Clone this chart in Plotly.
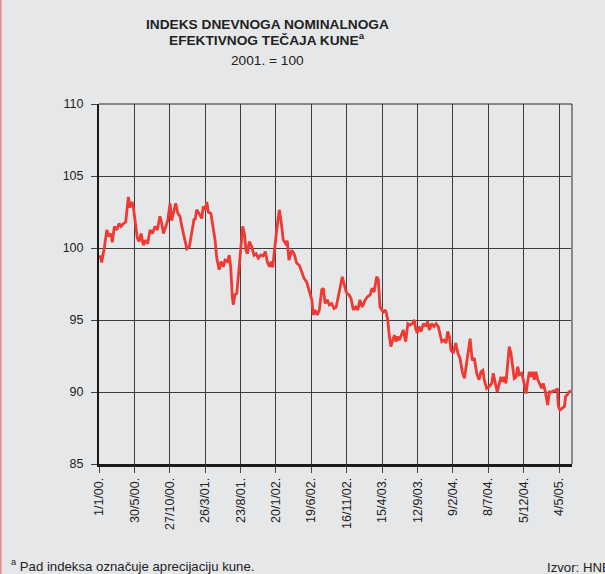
import pandas as pd
import plotly.graph_objects as go

# Days elapsed since 1 Jan 2000 for each read point
days = [4, 11, 22, 33, 42, 51, 56, 65, 75, 85, 93, 103, 113, 124, 131, 139, 145, 153, 162, 170,
        178, 188, 198, 206, 216, 226, 237, 247, 258, 266, 273, 283, 291, 301, 308, 315, 325, 334, 343, 351,
        362, 372, 383, 393, 403, 407, 414, 424, 435, 442, 449, 457, 463, 474, 482, 492, 499, 509, 517, 527,
        534, 544, 552, 558, 565, 569, 576, 584, 593, 602, 609, 616, 623, 629, 637, 647, 657, 666, 675, 685,
        696, 705, 713, 722, 729, 736, 743, 753, 764, 771, 781, 791, 798, 805, 817, 827, 838, 849, 859, 869,
        880, 892, 902, 908, 916, 925, 934, 944, 951, 958, 968, 976, 986, 996, 1005, 1014, 1022, 1031, 1040, 1050,
        1060, 1068, 1078, 1088, 1097, 1106, 1116, 1128, 1137, 1149, 1157, 1166, 1177, 1184, 1191, 1198, 1205, 1215, 1224, 1229,
        1237, 1243, 1252, 1259, 1266, 1273, 1283, 1290, 1300, 1309, 1318, 1328, 1337, 1342, 1349, 1356, 1365, 1375, 1385, 1393,
        1400, 1410, 1420, 1429, 1438, 1446, 1453, 1462, 1471, 1478, 1485, 1492, 1502, 1512, 1521, 1530, 1540, 1549, 1556, 1566,
        1573, 1582, 1591, 1601, 1611, 1619, 1627, 1633, 1643, 1655, 1665, 1671, 1679, 1688, 1697, 1704, 1711, 1718, 1725, 1733,
        1739, 1746, 1754, 1760, 1768, 1775, 1782, 1792, 1802, 1810, 1817, 1824, 1831, 1838, 1845, 1852, 1860, 1869, 1877, 1883,
        1891, 1898, 1902, 1909, 1919, 1929, 1937, 1943, 1947, 1954, 1964, 1973, 1978, 1985, 1992, 2001]

index_values = [99.5, 99.0, 100.0, 101.25, 100.8, 101.0, 100.4, 101.5, 101.25, 101.7, 101.5, 101.7, 101.8, 103.55, 102.8, 103.2, 102.9, 101.9, 100.7, 100.45,
                101.0, 100.2, 100.55, 100.3, 101.25, 101.0, 101.5, 101.25, 102.2, 101.7, 101.0, 101.5, 101.9, 103.1, 101.9, 102.4, 103.1, 102.4, 102.2, 101.5,
                100.7, 99.95, 100.1, 101.25, 102.05, 101.95, 102.65, 102.4, 102.05, 102.9, 102.65, 103.2, 102.5, 102.4, 101.5, 100.55, 99.3, 98.5, 99.05, 98.7,
                99.15, 99.05, 99.5, 98.7, 96.6, 96.05, 96.75, 96.85, 98.5, 100.1, 101.5, 101.0, 99.85, 99.6, 100.45, 100.1, 99.5, 99.6, 99.3, 99.5,
                99.45, 99.75, 99.05, 98.7, 99.05, 98.65, 99.85, 101.25, 102.65, 101.95, 100.55, 100.3, 100.5, 99.15, 99.85, 99.6, 98.95, 98.8, 98.35, 97.9,
                97.65, 96.95, 96.4, 95.35, 95.7, 95.35, 95.7, 97.1, 97.2, 96.15, 96.4, 96.05, 96.15, 95.8, 95.9, 96.6, 97.3, 98.0, 97.4, 96.85,
                96.75, 96.5, 95.7, 95.9, 95.7, 96.4, 95.9, 96.4, 96.6, 96.75, 97.2, 96.95, 98.0, 97.8, 95.9, 95.7, 95.55, 95.7, 95.0, 94.1,
                93.15, 93.5, 93.95, 93.5, 93.85, 93.6, 94.1, 94.3, 93.5, 94.75, 94.65, 94.75, 95.0, 94.4, 94.1, 94.55, 94.2, 94.75, 94.55, 94.9,
                94.3, 94.75, 94.55, 94.75, 94.55, 93.85, 93.5, 93.6, 93.4, 94.2, 93.85, 92.9, 92.7, 93.4, 92.7, 92.35, 91.4, 90.95, 91.85, 92.8,
                93.7, 92.2, 92.35, 91.3, 90.85, 91.4, 91.5, 90.85, 90.25, 90.4, 90.6, 91.3, 90.7, 90.0, 90.6, 91.05, 90.7, 91.05, 90.6, 92.0,
                93.15, 92.7, 91.75, 90.95, 91.05, 91.75, 91.2, 91.3, 90.6, 89.9, 90.7, 91.4, 91.05, 91.4, 90.85, 91.4, 90.85, 90.5, 90.25, 90.6,
                90.1, 89.45, 89.1, 90.0, 90.0, 90.1, 90.1, 90.25, 89.0, 88.75, 88.85, 89.0, 89.7, 89.8, 90.0, 90.1]

tick_dates = ["2000-01-01", "2000-05-30", "2000-10-27", "2001-03-26", "2001-08-23", "2002-01-20",
              "2002-06-19", "2002-11-16", "2003-04-15", "2003-09-12", "2004-02-09", "2004-07-08",
              "2004-12-05", "2005-05-04"]
tick_labels = ["1/1/00.", "30/5/00.", "27/10/00.", "26/3/01.", "23/8/01.", "20/1/02.", "19/6/02.",
               "16/11/02.", "15/4/03.", "12/9/03.", "9/2/04.", "8/7/04.", "5/12/04.", "4/5/05."]
y_ticks = [85, 90, 95, 100, 105, 110]

dates = pd.Timestamp("2000-01-01") + pd.to_timedelta(days, unit="D")

BG = "#e6e7e9"
FONT = "Liberation Sans, Arial, Helvetica, sans-serif"

fig = go.Figure()
fig.add_trace(go.Scatter(x=dates, y=index_values, mode="lines",
                         line=dict(color="#ee3a32", width=2.8), hoverinfo="x+y",
                         showlegend=False))

W, H = 605, 574
L, R, T, B = 99, 33, 104, 110
pw, ph = W - L - R, H - T - B

def px(x):
    return (x - L) / pw

def py(y):
    return (H - B - y) / ph

fig.update_layout(
    width=W, height=H,
    margin=dict(l=L, r=R, t=T, b=B),
    paper_bgcolor=BG, plot_bgcolor=BG,
    font=dict(family=FONT, size=12, color="#222"),
    xaxis=dict(type="date", range=["1999-12-31 18:00", "2005-06-28"],
               tickmode="array", tickvals=tick_dates, ticktext=tick_labels,
               tickangle=-90, ticks="outside", ticklen=6, tickcolor="#444", tickwidth=1,
               showgrid=True, gridcolor="#3c3c3c", gridwidth=1,
               showline=True, linecolor="#1a1a1a", linewidth=2.5,
               tickfont=dict(size=12.5, color="#222"), zeroline=False),
    yaxis=dict(range=[85, 110], tickmode="array", tickvals=y_ticks,
               ticks="outside", ticklen=6, tickcolor="#444", tickwidth=1,
               ticklabelstandoff=5,
               showgrid=True, gridcolor="#3c3c3c", gridwidth=1,
               showline=True, linecolor="#1a1a1a", linewidth=2,
               tickfont=dict(size=12.5, color="#222"), zeroline=False),
    shapes=[
        dict(type="line", xref="paper", yref="paper", x0=1, x1=1, y0=0, y1=1,
             line=dict(color="#8a8a8a", width=2)),
        dict(type="line", xref="paper", yref="paper", x0=0, x1=1, y0=1, y1=1,
             line=dict(color="#2a2a2a", width=1.2)),
        dict(type="line", xref="paper", yref="paper", x0=px(0.8), x1=px(0.8), y0=py(0), y1=py(H),
             line=dict(color="#e8898a", width=1.5)),
    ],
    annotations=[
        dict(xref="paper", yref="paper", x=px(267), y=py(24.5), xanchor="center", yanchor="middle",
             text="<b>INDEKS DNEVNOGA NOMINALNOGA</b>", showarrow=False,
             font=dict(size=13.7, color="#222")),
        dict(xref="paper", yref="paper", x=px(267), y=py(39.5), xanchor="center", yanchor="middle",
             text="<b>EFEKTIVNOG TEČAJA KUNE<sup>a</sup></b>", showarrow=False,
             font=dict(size=13.7, color="#222")),
        dict(xref="paper", yref="paper", x=px(267), y=py(61), xanchor="center", yanchor="middle",
             text="2001. = 100", showarrow=False, font=dict(size=13.7, color="#222")),
        dict(xref="paper", yref="paper", x=px(9), y=py(565), xanchor="left", yanchor="middle",
             text="<sup>a</sup> Pad indeksa označuje aprecijaciju kune.", showarrow=False,
             font=dict(size=13.2, color="#222")),
        dict(xref="paper", yref="paper", x=px(545), y=py(567), xanchor="left", yanchor="middle",
             text="Izvor: HNB", showarrow=False, font=dict(size=13.2, color="#222")),
    ],
)

fig.write_html("out.html",
               config={"displayModeBar": False},
               post_script="document.body.style.margin='0';"
                           "document.body.style.background='" + BG + "';"
                           "document.body.style.overflow='hidden';")
